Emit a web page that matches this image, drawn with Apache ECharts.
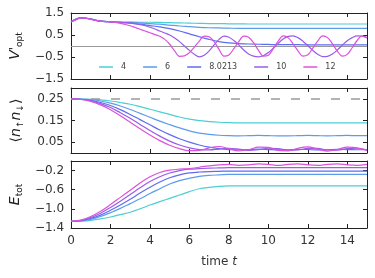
<!DOCTYPE html>
<html><head><meta charset="utf-8">
<script src="https://cdn.jsdelivr.net/npm/echarts@6/dist/echarts.min.js"></script>
<style>html,body{margin:0;padding:0;background:#fff}#c{width:375px;height:278px}</style>
</head><body><div id="c"></div>
<script>
// Series labels (U values) and colours
const labels = ['4', '6', '8.0213', '10', '12'];
const colors = ['#4ccfd2', '#5c9cec', '#5f6cf0', '#9a5ce8', '#dc52dc'];

// Time grids
const tHalf = [0,0.5,1,1.5,2,2.5,3,3.5,4,4.5,5,5.5,6,6.5,7,7.5,8,8.5,9,9.5,10,10.5,11,11.5,12,12.5,13,13.5,14,14.5,15];
const tQuarter = [0,0.25,0.5,0.75,1,1.25,1.5,1.75,2,2.25,2.5,2.75,3,3.25,3.5,3.75,4,4.25,4.5,4.75,5,5.25,5.5,5.75,6,6.25,6.5,6.75,7,7.25,7.5,7.75,8,8.25,8.5,8.75,9,9.25,9.5,9.75,10,10.25,10.5,10.75,11,11.25,11.5,11.75,12,12.25,12.5,12.75,13,13.25,13.5,13.75,14,14.25,14.5,14.75,15];

// Panel 1: V'_opt
const v4 = [1.10,1.28,1.22,1.13,1.10,1.09,1.09,1.08,1.08,1.07,1.06,1.05,1.04,1.03,1.02,1.02,1.01,1.01,1.00,1.00,1.00,1.00,1.00,1.00,1.00,1.00,1.00,1.00,1.00,1.00,1.00];
const v6 = [1.10,1.28,1.22,1.13,1.10,1.08,1.07,1.05,1.02,0.99,0.95,0.91,0.88,0.85,0.83,0.82,0.81,0.80,0.80,0.80,0.80,0.80,0.80,0.80,0.80,0.80,0.80,0.80,0.80,0.80,0.80];
const v8 = [1.10,1.28,1.22,1.13,1.10,1.07,1.04,0.99,0.93,0.87,0.79,0.68,0.55,0.42,0.30,0.20,0.14,0.11,0.09,0.08,0.07,0.06,0.06,0.06,0.05,0.05,0.05,0.05,0.05,0.05,0.05];
const v10 = [1.10,1.20,1.28,1.27,1.22,1.17,1.13,1.11,1.10,1.09,1.07,1.06,1.04,1.01,0.97,0.92,0.85,0.77,0.68,0.59,0.50,0.36,0.20,0.00,-0.20,-0.38,-0.49,-0.42,-0.22,0.05,0.30,0.45,0.40,0.25,0.05,-0.18,-0.36,-0.46,-0.49,-0.44,-0.30,-0.10,0.12,0.32,0.44,0.46,0.38,0.22,0.02,-0.20,-0.38,-0.48,-0.47,-0.36,-0.18,0.04,0.24,0.38,0.46,0.45,0.36];
const v12 = [1.10,1.20,1.28,1.27,1.22,1.17,1.13,1.11,1.10,1.07,1.03,0.98,0.92,0.84,0.76,0.68,0.60,0.52,0.44,0.30,0.08,-0.22,-0.47,-0.45,-0.30,-0.05,0.22,0.45,0.42,0.20,-0.15,-0.46,-0.41,-0.12,0.20,0.45,0.40,0.15,-0.20,-0.46,-0.42,-0.12,0.22,0.46,0.38,0.10,-0.22,-0.46,-0.40,-0.10,0.22,0.46,0.38,0.10,-0.24,-0.46,-0.38,-0.08,0.25,0.46,0.38];

// Panel 2: <n_up n_down>
const d4 = [0.250,0.249,0.248,0.245,0.240,0.233,0.225,0.214,0.202,0.190,0.178,0.166,0.156,0.149,0.145,0.142,0.140,0.139,0.139,0.139,0.139,0.139,0.139,0.139,0.139,0.139,0.139,0.139,0.139,0.139,0.139];
const d6 = [0.250,0.249,0.246,0.240,0.230,0.217,0.201,0.183,0.165,0.147,0.131,0.116,0.102,0.092,0.086,0.082,0.080,0.079,0.080,0.081,0.080,0.079,0.079,0.080,0.081,0.080,0.079,0.080,0.081,0.080,0.080];
const d8 = [0.250,0.248,0.243,0.233,0.219,0.200,0.178,0.154,0.130,0.106,0.085,0.066,0.050,0.037,0.027,0.020,0.016,0.015,0.016,0.018,0.016,0.014,0.015,0.017,0.016,0.014,0.015,0.017,0.016,0.015,0.016];
const d10 = [0.250,0.248,0.241,0.228,0.210,0.186,0.160,0.132,0.104,0.078,0.055,0.037,0.024,0.016,0.014,0.018,0.022,0.018,0.012,0.015,0.022,0.020,0.013,0.014,0.021,0.021,0.014,0.013,0.020,0.022,0.015];
const d12 = [0.250,0.247,0.238,0.222,0.200,0.172,0.142,0.112,0.083,0.057,0.036,0.020,0.011,0.012,0.024,0.030,0.020,0.010,0.015,0.027,0.026,0.012,0.010,0.022,0.028,0.018,0.009,0.016,0.027,0.024,0.012];

// Panel 3: E_tot
const e4 = [-1.26,-1.255,-1.24,-1.21,-1.17,-1.12,-1.07,-1.00,-0.92,-0.85,-0.78,-0.71,-0.64,-0.58,-0.55,-0.53,-0.52,-0.52,-0.52,-0.52,-0.52,-0.52,-0.52,-0.52,-0.52,-0.52,-0.52,-0.52,-0.52,-0.52,-0.52];
const e6 = [-1.26,-1.25,-1.22,-1.16,-1.08,-0.99,-0.89,-0.79,-0.68,-0.58,-0.48,-0.41,-0.36,-0.32,-0.30,-0.29,-0.28,-0.28,-0.28,-0.28,-0.28,-0.28,-0.28,-0.28,-0.28,-0.28,-0.28,-0.28,-0.28,-0.28,-0.28];
const e8 = [-1.26,-1.245,-1.20,-1.13,-1.03,-0.92,-0.80,-0.67,-0.55,-0.44,-0.35,-0.29,-0.25,-0.23,-0.22,-0.215,-0.21,-0.21,-0.21,-0.21,-0.21,-0.21,-0.21,-0.21,-0.21,-0.21,-0.21,-0.21,-0.21,-0.21,-0.21];
const e10 = [-1.26,-1.24,-1.18,-1.09,-0.97,-0.84,-0.70,-0.56,-0.43,-0.33,-0.25,-0.20,-0.17,-0.16,-0.15,-0.145,-0.14,-0.14,-0.14,-0.14,-0.14,-0.14,-0.14,-0.14,-0.14,-0.14,-0.14,-0.14,-0.14,-0.14,-0.14];
const e12 = [-1.26,-1.235,-1.16,-1.05,-0.91,-0.76,-0.61,-0.46,-0.33,-0.24,-0.19,-0.17,-0.16,-0.13,-0.10,-0.08,-0.07,-0.09,-0.08,-0.06,-0.07,-0.09,-0.07,-0.06,-0.08,-0.09,-0.07,-0.06,-0.08,-0.09,-0.07];

// Axis tick values
const xTicks = [0,2,4,6,8,10,12,14];
const y1Ticks = [-1.5,-0.5,0.5,1.5];
const y2Ticks = [0.05,0.15,0.25];
const y3Ticks = [-1.4,-1.0,-0.6,-0.2];

const panel1 = [[tHalf,v4],[tHalf,v6],[tHalf,v8],[tQuarter,v10],[tQuarter,v12]];
const panel2 = [d4,d6,d8,d10,d12];
const panel3 = [e4,e6,e8,e10,e12];

const zip = (t, v) => t.map((x, i) => [x, v[i]]);
const FONT = 'DejaVu Sans';
const frame = {show: true, onZero: false, lineStyle: {color: '#222', width: 1}};
const grids = [
  {left: 71, right: 8, top: 13, height: 66},
  {left: 71, right: 8, top: 88, height: 65},
  {left: 71, right: 8, top: 161, height: 67}
];
const yDefs = [
  {min: -1.5, max: 1.5, ticks: y1Ticks, fmt: v => v.toFixed(1)},
  {min: 0, max: 0.3, ticks: y2Ticks, fmt: v => v.toFixed(2)},
  {min: -1.4, max: 0, ticks: y3Ticks, fmt: v => v.toFixed(1)}
];
const yNames = [
  "{i|V}{p|'}{s|opt}",
  '{n|⟨}{i|n}{s|↑}{i|n}{s|↓}{n|⟩}',
  '{i|E}{s|tot}'
];
const rich = {
  i: {fontFamily: FONT, fontStyle: 'italic', fontSize: 14, color: '#222'},
  n: {fontFamily: FONT, fontSize: 14, color: '#222'},
  p: {fontFamily: FONT, fontSize: 12, color: '#222'},
  s: {fontFamily: FONT, fontSize: 9, color: '#222', padding: [9, 0, 0, 0]}
};
const minus = s => s.replace('-', '\u2212');

const xAxis = [], yAxis = [], series = [];
for (let g = 0; g < 3; g++) {
  const isLast = g === 2;
  const tickCommon = {show: true, inside: true, length: 4, lineStyle: {color: '#222', width: 1}};
  xAxis.push({
    type: 'value', gridIndex: g, min: 0, max: 15, position: 'bottom',
    axisLine: frame, splitLine: {show: false},
    axisTick: Object.assign({customValues: xTicks}, tickCommon),
    axisLabel: {show: isLast, customValues: xTicks, fontFamily: FONT, fontSize: 12, color: '#333', margin: 7},
    name: isLast ? '{n|time }{i|t}' : '', nameLocation: 'middle', nameGap: 28,
    nameTextStyle: {rich: {n: {fontFamily: FONT, fontSize: 12, color: '#333'}, i: {fontFamily: FONT, fontSize: 12, fontStyle: 'italic', color: '#333'}}}
  });
  xAxis.push({
    type: 'value', gridIndex: g, min: 0, max: 15, position: 'top',
    axisLine: frame, splitLine: {show: false},
    axisTick: Object.assign({customValues: xTicks}, tickCommon),
    axisLabel: {show: false}
  });
  const yd = yDefs[g];
  yAxis.push({
    type: 'value', gridIndex: g, min: yd.min, max: yd.max, position: 'left',
    axisLine: frame, splitLine: {show: false},
    axisTick: Object.assign({customValues: yd.ticks}, tickCommon),
    axisLabel: {customValues: yd.ticks, formatter: v => minus(yd.fmt(v)), fontFamily: FONT, fontSize: 12, color: '#333', margin: 7},
    name: yNames[g], nameLocation: 'middle', nameRotate: 90, nameGap: 46,
    nameTextStyle: {rich: rich}
  });
  yAxis.push({
    type: 'value', gridIndex: g, min: yd.min, max: yd.max, position: 'right',
    axisLine: frame, splitLine: {show: false},
    axisTick: Object.assign({customValues: yd.ticks}, tickCommon),
    axisLabel: {show: false}
  });
}

for (let k = 0; k < 5; k++) {
  const base = {type: 'line', showSymbol: false, symbol: 'none', smooth: 0.35, animation: false, color: colors[k],
    lineStyle: {width: 1.2, color: colors[k]}, z: 3 + k};
  series.push(Object.assign({}, base, {name: labels[k], xAxisIndex: 0, yAxisIndex: 0, data: zip(panel1[k][0], panel1[k][1])}));
  series.push(Object.assign({}, base, {name: labels[k], xAxisIndex: 2, yAxisIndex: 2, data: zip(tHalf, panel2[k])}));
  series.push(Object.assign({}, base, {name: labels[k], xAxisIndex: 4, yAxisIndex: 4, data: zip(tHalf, panel3[k])}));
}
// reference lines
series.push({type: 'line', xAxisIndex: 0, yAxisIndex: 0, data: [], silent: true, z: 1,
  markLine: {silent: true, symbol: 'none', label: {show: false}, lineStyle: {color: '#9a9a9a', width: 1.2, type: 'solid'}, data: [{yAxis: 0}]}});
series.push({type: 'line', xAxisIndex: 2, yAxisIndex: 2, data: [], silent: true, z: 1,
  markLine: {silent: true, symbol: 'none', label: {show: false}, lineStyle: {color: '#9a9a9a', width: 1.5, type: [9, 11]}, data: [{yAxis: 0.25}]}});

const chart = echarts.init(document.getElementById('c'), null, {renderer: 'canvas'});
chart.setOption({
  animation: false,
  grid: grids,
  xAxis: xAxis,
  yAxis: yAxis,
  legend: {show: true, data: labels.map((n, i) => ({name: n, itemStyle: {color: colors[i]}})),
    left: 94, top: 58, itemWidth: 14, itemHeight: 1.5, itemGap: 17, icon: 'rect',
    textStyle: {fontFamily: FONT, fontSize: 8, color: '#444', padding: [0, 0, 0, 3]}},
  series: series
});
</script></body></html>
